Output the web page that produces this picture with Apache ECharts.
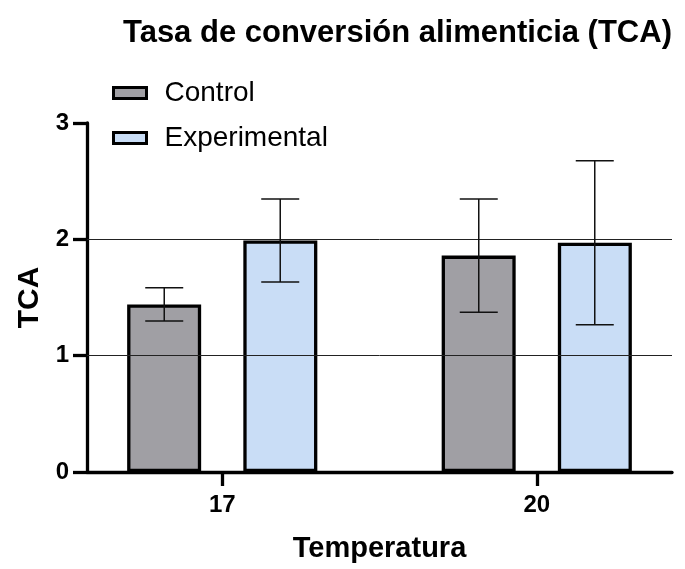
<!DOCTYPE html>
<html>
<head>
<meta charset="utf-8">
<script src="https://cdn.jsdelivr.net/npm/echarts@6/dist/echarts.min.js"></script>
<style>
  html, body { margin: 0; padding: 0; background: #fff; }
  #chart { width: 685px; height: 569px; }
</style>
</head>
<body>
<div id="chart"></div>
<script>
// Temperatures (x positions) and group statistics
const temperatures = [17, 20];
const controlMean = [1.44, 1.86];
const controlSD = [0.143, 0.487];
const experimentalMean = [1.99, 1.97];
const experimentalSD = [0.356, 0.705];
const yTicks = [0, 1, 2, 3];
const gridValues = [1, 2];

const FONT = '"Liberation Sans", Arial, sans-serif';
const BAR_WIDTH = 74;
const BAR_GAP = '57%';
const BAR_OFFSET = 58; // half distance between paired bar centres
const CAP = 19;        // half width of error-bar caps

function pairs(xs, ys) { return xs.map((x, i) => [x, ys[i]]); }
function triples(xs, ms, sds) { return xs.map((x, i) => [x, ms[i], sds[i]]); }

function errorBarRenderer(offset) {
  return function (params, api) {
    const x = api.value(0), m = api.value(1), sd = api.value(2);
    const top = api.coord([x, m + sd]);
    const bot = api.coord([x, m - sd]);
    const cx = top[0] + offset;
    const style = { stroke: '#111', lineWidth: 1.5 };
    return {
      type: 'group',
      children: [
        { type: 'line', shape: { x1: cx, y1: top[1], x2: cx, y2: bot[1] }, style },
        { type: 'line', shape: { x1: cx - CAP, y1: top[1], x2: cx + CAP, y2: top[1] }, style },
        { type: 'line', shape: { x1: cx - CAP, y1: bot[1], x2: cx + CAP, y2: bot[1] }, style }
      ]
    };
  };
}

const chart = echarts.init(document.getElementById('chart'), null, { renderer: 'canvas' });

chart.setOption({
  animation: false,
  backgroundColor: '#fff',
  title: {
    text: 'Tasa de conversión alimenticia (TCA)',
    left: 118,
    top: 13,
    textStyle: { fontFamily: FONT, fontSize: 31, fontWeight: 'bold', color: '#000' }
  },
  legend: {
    orient: 'vertical',
    left: 107,
    top: 74,
    icon: 'rect',
    itemWidth: 33,
    itemHeight: 11,
    itemGap: 17,
    data: ['Control', 'Experimental'],
    itemStyle: { borderColor: '#000', borderWidth: 3 },
    textStyle: { fontFamily: FONT, fontSize: 28, color: '#000', padding: [0, 0, 0, 13] }
  },
  grid: { left: 87, right: 13, top: 123, bottom: 97 },
  xAxis: {
    type: 'value',
    min: 15.71,
    max: 21.29,
    name: 'Temperatura',
    nameLocation: 'middle',
    nameGap: 62,
    nameTextStyle: { fontFamily: FONT, fontSize: 29, fontWeight: 'bold', color: '#000' },
    axisLine: { show: true, lineStyle: { color: '#000', width: 3.3 } },
    axisTick: { show: true, length: 14, lineStyle: { color: '#000', width: 3.3 }, customValues: temperatures },
    axisLabel: {
      customValues: temperatures,
      margin: 21,
      fontFamily: FONT, fontSize: 24, fontWeight: 'bold', color: '#000'
    },
    splitLine: { show: false }
  },
  yAxis: {
    type: 'value',
    min: yTicks[0],
    max: yTicks[yTicks.length - 1],
    interval: 1,
    name: 'TCA',
    nameLocation: 'middle',
    nameGap: 42,
    nameTextStyle: { fontFamily: FONT, fontSize: 30, fontWeight: 'bold', color: '#000' },
    axisLine: { show: true, lineStyle: { color: '#000', width: 3.3 } },
    axisTick: { show: true, length: 14, lineStyle: { color: '#000', width: 3.3 } },
    axisLabel: { margin: 18, fontFamily: FONT, fontSize: 24, fontWeight: 'bold', color: '#000' },
    splitLine: { show: false }
  },
  series: [
    {
      name: 'Control',
      type: 'bar',
      barWidth: BAR_WIDTH,
      barGap: BAR_GAP,
      data: pairs(temperatures, controlMean),
      itemStyle: { color: '#a09fa4', borderColor: '#000', borderWidth: 3.3 },
      z: 2,
      markLine: {
        silent: true,
        symbol: 'none',
        label: { show: false },
        lineStyle: { color: '#222', width: 1, type: 'solid' },
        data: gridValues.map(v => ({ yAxis: v }))
      }
    },
    {
      name: 'Experimental',
      type: 'bar',
      barWidth: BAR_WIDTH,
      barGap: BAR_GAP,
      data: pairs(temperatures, experimentalMean),
      itemStyle: { color: '#c9ddf6', borderColor: '#000', borderWidth: 3.3 },
      z: 2
    },
    {
      name: 'Control SD',
      type: 'custom',
      renderItem: errorBarRenderer(-BAR_OFFSET),
      data: triples(temperatures, controlMean, controlSD),
      encode: { x: 0, y: 1 },
      z: 5
    },
    {
      name: 'Experimental SD',
      type: 'custom',
      renderItem: errorBarRenderer(BAR_OFFSET),
      data: triples(temperatures, experimentalMean, experimentalSD),
      encode: { x: 0, y: 1 },
      z: 5
    }
  ]
});
</script>
</body>
</html>
